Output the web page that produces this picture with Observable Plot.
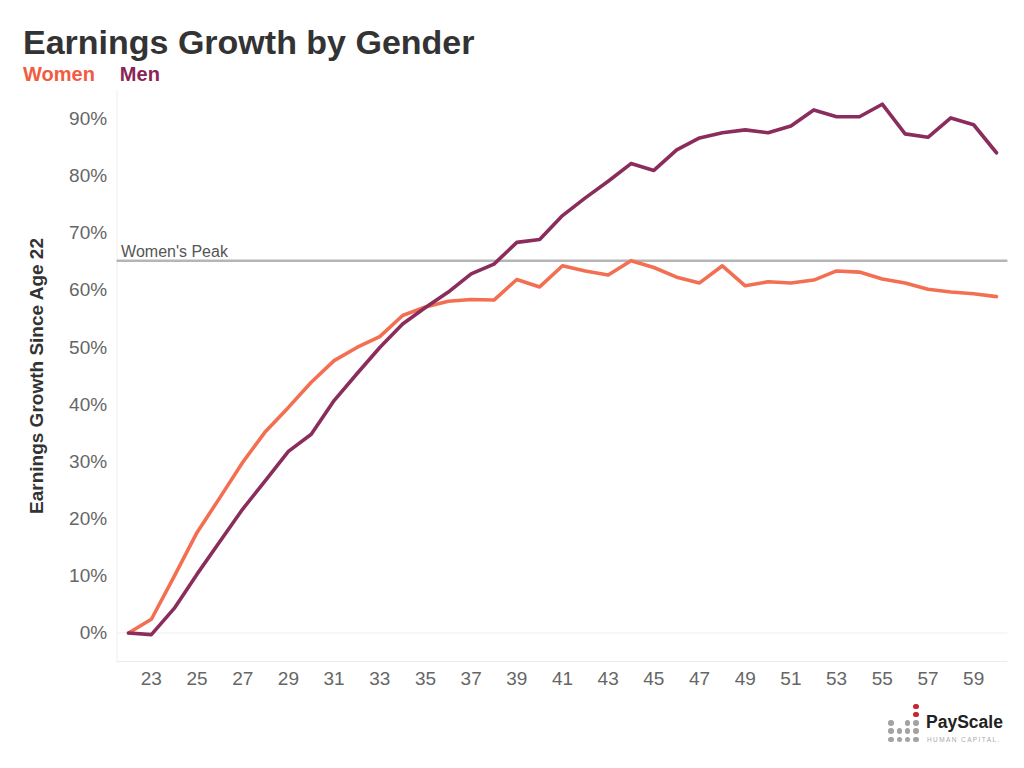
<!DOCTYPE html>
<html>
<head>
<meta charset="utf-8">
<script src="https://cdn.jsdelivr.net/npm/d3@7"></script>
<script src="https://cdn.jsdelivr.net/npm/@observablehq/plot@0.6"></script>
<style>
  body { margin: 0; background: #fff; font-family: "Liberation Sans", Arial, sans-serif; }
  #page { position: relative; width: 1024px; height: 768px; overflow: hidden; background: #fff; }
  #title { position: absolute; left: 23px; top: 22.5px; font-size: 34px; font-weight: bold; color: #333; line-height: normal; white-space: nowrap; }
  #legend { position: absolute; left: 23px; top: 62.5px; font-size: 20px; font-weight: bold; line-height: normal; white-space: nowrap; }
  #legend .w { color: #f35b41; }
  #legend .m { color: #8a2456; margin-left: 25px; }
  #chart { position: absolute; left: 0; top: 86px; }
  #logo { position: absolute; left: 880px; top: 700px; width: 140px; height: 50px; }
  #logo .d { position: absolute; width: 5.5px; height: 5.5px; border-radius: 50%; background: #a3a3a3; }
  #logo .d.r { background: #c8232f; }
  #logo .brand { position: absolute; left: 46px; top: 11.5px; font-size: 17.5px; font-weight: bold; color: #222; line-height: normal; white-space: nowrap; }
  #logo .sub { position: absolute; left: 47px; top: 36px; font-size: 6.5px; letter-spacing: 1.4px; color: #aaa; line-height: normal; white-space: nowrap; }
</style>
</head>
<body>
<div id="page">
  <div id="title">Earnings Growth by Gender</div>
  <div id="legend"><span class="w">Women</span><span class="m">Men</span></div>
  <div id="chart"></div>
  <div id="logo">
    <span class="d r" style="left:33px;top:3.5px"></span>
    <span class="d r" style="left:33px;top:11.8px"></span>
    <span class="d" style="left:8.2px;top:20.2px"></span>
    <span class="d" style="left:24.8px;top:20.2px"></span>
    <span class="d" style="left:33px;top:20.2px"></span>
    <span class="d" style="left:8.2px;top:28.2px"></span>
    <span class="d" style="left:16.5px;top:28.2px"></span>
    <span class="d" style="left:24.8px;top:28.2px"></span>
    <span class="d" style="left:33px;top:28.2px"></span>
    <span class="d" style="left:8.2px;top:36.5px"></span>
    <span class="d" style="left:16.5px;top:36.5px"></span>
    <span class="d" style="left:24.8px;top:36.5px"></span>
    <span class="d" style="left:33px;top:36.5px"></span>
    <div class="brand">PayScale</div>
    <div class="sub">HUMAN CAPITAL.</div>
  </div>
</div>
<script>
// Ages (x categories)
const ages = [22, 23, 24, 25, 26, 27, 28, 29, 30, 31, 32, 33, 34, 35, 36, 37, 38, 39, 40,
              41, 42, 43, 44, 45, 46, 47, 48, 49, 50, 51, 52, 53, 54, 55, 56, 57, 58, 59, 60];

// Earnings growth since age 22 (%)
const women = [0, 2.4, 9.9, 17.6, 23.7, 29.9, 35.3, 39.5, 43.9, 47.7, 50.0, 51.9, 55.6, 57.1,
               58.1, 58.4, 58.3, 61.9, 60.6, 64.3, 63.4, 62.7, 65.2, 64.0, 62.3, 61.3, 64.3,
               60.8, 61.5, 61.3, 61.8, 63.4, 63.2, 62.0, 61.3, 60.2, 59.7, 59.4, 58.9];

const men = [0, -0.3, 4.3, 10.3, 16.0, 21.7, 26.7, 31.8, 34.8, 40.7, 45.4, 50.0, 54.1, 57.0,
             59.7, 62.9, 64.6, 68.4, 68.9, 73.1, 76.2, 79.1, 82.2, 81.0, 84.6, 86.7, 87.6,
             88.1, 87.6, 88.8, 91.6, 90.4, 90.4, 92.6, 87.4, 86.8, 90.2, 89.0, 84.1];

// Tick labels
const xTicks = [23, 25, 27, 29, 31, 33, 35, 37, 39, 41, 43, 45, 47, 49, 51, 53, 55, 57, 59];
const yTicks = [0, 10, 20, 30, 40, 50, 60, 70, 80, 90];

const womenColor = "#f36f52";
const menColor = "#8b2d5c";

const womenData = ages.map((a, i) => ({age: a, value: women[i]}));
const menData = ages.map((a, i) => ({age: a, value: men[i]}));
const peak = d3.max(women);

const chart = Plot.plot({
  width: 1024,
  height: 620,
  marginLeft: 116.6,
  marginRight: 16.6,
  marginTop: 4,
  marginBottom: 45,
  style: {fontFamily: "'Liberation Sans', Arial, sans-serif", fontSize: "19px", color: "#666", background: "#fff"},
  x: {domain: [21.5, 60.5]},
  y: {domain: [-5, 95]},
  marks: [
    Plot.ruleY([0], {stroke: "#efefef", strokeWidth: 1}),
    Plot.ruleY([-5], {stroke: "#ebebeb", strokeWidth: 1}),
    Plot.ruleX([21.5], {stroke: "#efefef", strokeWidth: 1}),
    Plot.ruleY([peak], {stroke: "#b5b5b5", strokeWidth: 2.5}),
    Plot.text([peak], {
      y: d => d, frameAnchor: "left", text: () => "Women's Peak",
      textAnchor: "start", lineAnchor: "bottom", dx: 4, dy: -4,
      fontSize: 16, fill: "#555"
    }),
    Plot.line(womenData, {x: "age", y: "value", stroke: womenColor, strokeWidth: 3.6}),
    Plot.line(menData, {x: "age", y: "value", stroke: menColor, strokeWidth: 3.6}),
    Plot.axisX({ticks: xTicks, tickSize: 0, tickPadding: 10, label: null, fontSize: 19, fill: "#666"}),
    Plot.axisY({ticks: yTicks, tickFormat: d => d + "%", tickSize: 0, tickPadding: 10, label: null, fontSize: 19, fill: "#666"}),
    Plot.text(["Earnings Growth Since Age 22"], {
      frameAnchor: "left", dx: -80, rotate: -90, textAnchor: "middle", lineAnchor: "middle",
      fontSize: 19, fontWeight: "bold", fill: "#333"
    })
  ]
});
document.getElementById("chart").appendChild(chart);
</script>
</body>
</html>
